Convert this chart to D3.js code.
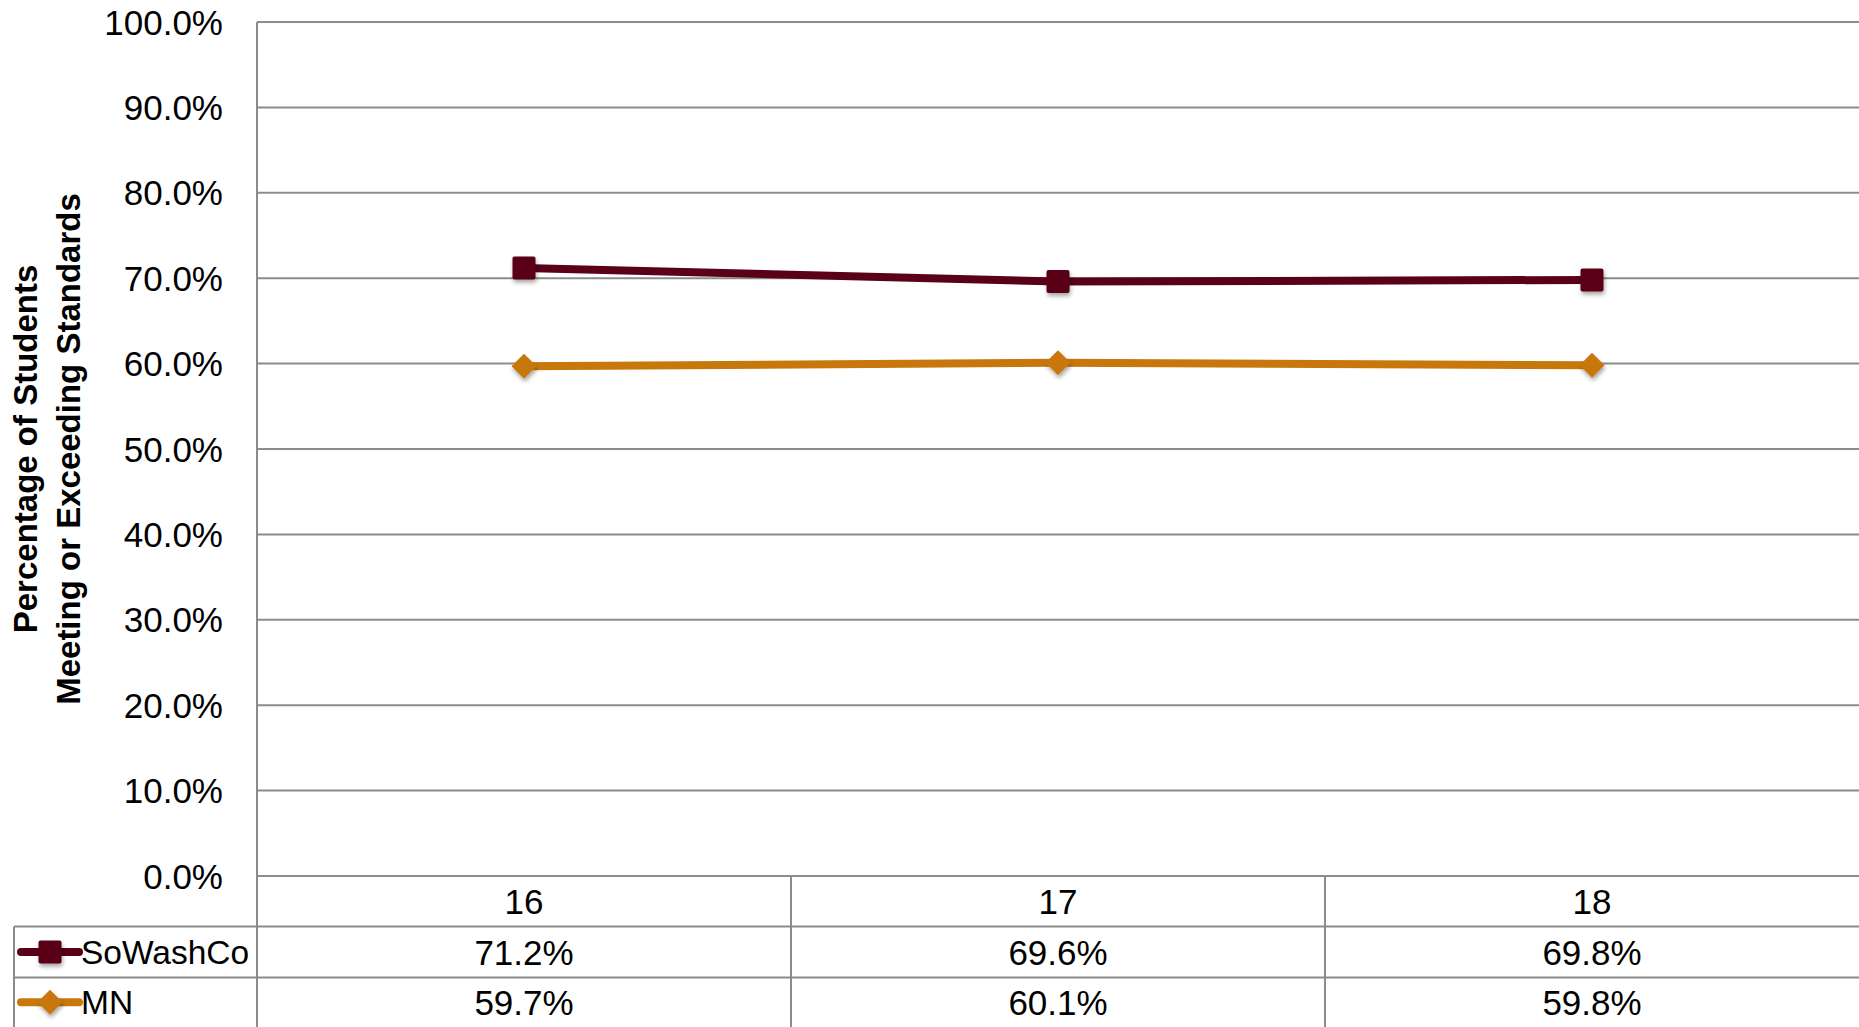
<!DOCTYPE html>
<html><head><meta charset="utf-8">
<script src="https://cdn.jsdelivr.net/npm/d3@7/dist/d3.min.js"></script>
<style>body{margin:0;background:#fff;}svg{display:block;}text{font-family:"Liberation Sans",Arial,sans-serif;fill:#000;}</style>
</head><body>
<svg id="c" width="1859" height="1027"></svg>
<script>
const categories = ["16","17","18"];
const seriesNames = ["SoWashCo","MN"];
const soWashCo = [71.2, 69.6, 69.8];
const mn = [59.7, 60.1, 59.8];
const yTicks = [0,10,20,30,40,50,60,70,80,90,100];
const colors = ["#5a0019","#c8770b"];
const series = [
  {name: seriesNames[0], values: soWashCo, color: colors[0], marker: "square"},
  {name: seriesNames[1], values: mn, color: colors[1], marker: "diamond"}
];

const W = 1859, H = 1027;
const L = 257, R = 1859, T = 22, B = 876;
const rowTop = [876, 926.5, 977.5, 1027];
const tableLeft = 14;
const svg = d3.select("#c");
const x = d3.scaleBand().domain(categories).range([L, R]);
const y = d3.scaleLinear().domain([0,100]).range([B, T]);
const grid = "#8c8c8c";
const fs = "35px";

const defs = svg.append("defs");
const f = defs.append("filter").attr("id","sh").attr("x","-50%").attr("y","-50%").attr("width","200%").attr("height","200%");
f.append("feDropShadow").attr("dx",1).attr("dy",3).attr("stdDeviation",2).attr("flood-color","#000").attr("flood-opacity",0.35);

svg.append("g").selectAll("line").data(yTicks).join("line")
  .attr("x1", L).attr("x2", R).attr("y1", d=>y(d)).attr("y2", d=>y(d))
  .attr("stroke", grid).attr("stroke-width", 2);
svg.append("g").selectAll("text").data(yTicks).join("text")
  .attr("x", 223).attr("y", d=>y(d)).attr("dy","0.36em").attr("text-anchor","end")
  .style("font-size",fs).text(d=>d3.format(".1f")(d)+"%");
svg.append("line").attr("x1",L).attr("x2",L).attr("y1",T).attr("y2",H).attr("stroke",grid).attr("stroke-width",2);
const tt = svg.append("text").attr("transform",`translate(47,449) rotate(-90)`).attr("text-anchor","middle")
  .style("font-size","33px").style("font-weight","bold");
tt.append("tspan").attr("x",0).attr("y",-10).text("Percentage of Students");
tt.append("tspan").attr("x",0).attr("y",33).text("Meeting or Exceeding Standards");

const tg = svg.append("g");
categories.forEach((c,i)=>{
  if(i>0) tg.append("line").attr("x1",x(c)).attr("x2",x(c)).attr("y1",B).attr("y2",H).attr("stroke",grid).attr("stroke-width",2);
});
[rowTop[1], rowTop[2]].forEach(yy=>{
  tg.append("line").attr("x1",tableLeft).attr("x2",R).attr("y1",yy).attr("y2",yy).attr("stroke",grid).attr("stroke-width",2);
});
tg.append("line").attr("x1",tableLeft).attr("x2",tableLeft).attr("y1",rowTop[1]).attr("y2",H).attr("stroke",grid).attr("stroke-width",2);

svg.append("g").selectAll("text").data(categories).join("text")
  .attr("x", d=>x(d)+x.bandwidth()/2).attr("y",(rowTop[0]+rowTop[1])/2).attr("dy","0.36em")
  .attr("text-anchor","middle").style("font-size",fs).text(d=>d);

const line = d3.line().x((d,i)=>x(categories[i])+x.bandwidth()/2).y(d=>y(d));
function marker(g, type, cx, cy, color){
  if(type==="square"){
    const size = 23;
    g.append("rect").attr("x",cx-size/2).attr("y",cy-size/2).attr("width",size).attr("height",size).attr("rx",2)
      .attr("fill",color).attr("filter","url(#sh)");
  } else {
    const s = 12.5;
    g.append("path").attr("d",`M${cx},${cy-s}L${cx+s},${cy}L${cx},${cy+s}L${cx-s},${cy}Z`)
      .attr("fill",color).attr("filter","url(#sh)");
  }
}
series.forEach((s,si)=>{
  const g = svg.append("g");
  g.append("path").datum(s.values).attr("d",line).attr("fill","none").attr("stroke",s.color).attr("stroke-width",8);
  s.values.forEach((v,i)=>marker(g, s.marker, x(categories[i])+x.bandwidth()/2, y(v), s.color));
  const cy = (rowTop[si+1]+rowTop[si+2])/2;
  g.append("line").attr("x1",21).attr("x2",79).attr("y1",cy).attr("y2",cy).attr("stroke",s.color).attr("stroke-width",8).attr("stroke-linecap","round");
  marker(g, s.marker, 50, cy, s.color);
  g.append("text").attr("x",81).attr("y",cy).attr("dy","0.36em").style("font-size","33.5px").text(s.name);
  s.values.forEach((v,i)=>{
    g.append("text").attr("x",x(categories[i])+x.bandwidth()/2).attr("y",cy).attr("dy","0.36em")
      .attr("text-anchor","middle").style("font-size",fs).text(d3.format(".1f")(v)+"%");
  });
});
</script>
</body></html>
